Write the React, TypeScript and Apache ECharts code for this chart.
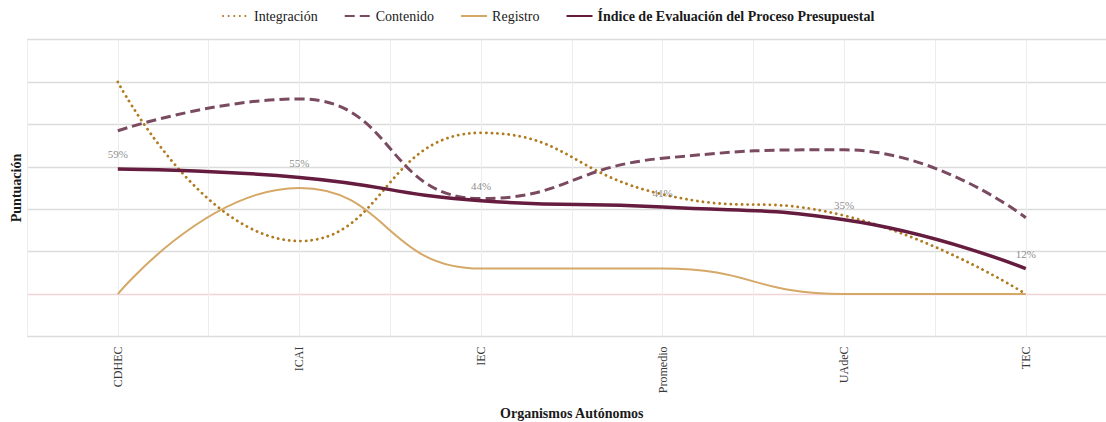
import React, { useEffect, useRef } from "react";
import * as echarts from "echarts";

const categories = ["CDHEC", "ICAI", "IEC", "Promedio", "UAdeC", "TEC"];
const integracion = [100, 25, 76, 47, 37, 0];
const contenido = [77, 92, 45, 64, 68, 36];
const registro = [0, 50, 12, 12, 0, 0];
const indice = [59, 55, 44, 41, 35, 12];

const NAME_INT = "Integración";
const NAME_CON = "Contenido";
const NAME_REG = "Registro";
const NAME_IDX = "Índice de Evaluación del Proceso Presupuestal";

const FONT = "'Liberation Serif', 'DejaVu Serif', serif";

const pairs = (arr: number[]) => arr.map((v, i) => [i, v]);

export default function App() {
  const ref = useRef<HTMLDivElement>(null);
  useEffect(() => {
    if (!ref.current) return;
    const chart = echarts.init(ref.current, undefined, { renderer: "svg" });
    const gridColors = ["#dcdcdc", "#f2d4d4", "#dcdcdc", "#dcdcdc", "#dcdcdc", "#dcdcdc", "#dcdcdc", "#dcdcdc"];
    chart.setOption({
      animation: false,
      backgroundColor: "#ffffff",
      legend: {
        data: [NAME_INT, NAME_CON, NAME_REG, NAME_IDX],
        left: 222,
        top: 9,
        padding: 0,
        itemWidth: 26,
        itemHeight: 14,
        itemGap: 26,
        itemStyle: { opacity: 0, color: "rgba(0,0,0,0)", borderWidth: 0 },
        textStyle: {
          fontFamily: FONT,
          fontSize: 14,
          color: "#1a1a1a",
          rich: { b: { fontFamily: FONT, fontSize: 14, fontWeight: "bold", color: "#1a1a1a" } },
        },
        formatter: (n: string) => (n === NAME_IDX ? "{b|" + n + "}" : n),
      },
      grid: { left: 27, top: 39.5, right: -10.6, bottom: 85.5, outerBoundsMode: "none", containLabel: false },
      xAxis: {
        type: "value",
        min: -0.5,
        max: 5.5,
        interval: 0.5,
        axisLine: { show: false },
        axisTick: { show: false },
        splitLine: { show: true, lineStyle: { color: "#ededed", width: 1 } },
        axisLabel: {
          rotate: 90,
          margin: 10,
          fontFamily: FONT,
          fontSize: 12,
          color: "#3a3a3a",
          showMinLabel: true,
          showMaxLabel: true,
          formatter: (v: number) => {
            const r = Math.round(v);
            return Math.abs(v - r) < 1e-6 && r >= 0 && r < categories.length ? categories[r] : "";
          },
        },
        name: "Organismos Autónomos",
        nameLocation: "middle",
        nameGap: 70,
        nameTextStyle: { fontFamily: FONT, fontSize: 14, fontWeight: "bold", color: "#1a1a1a" },
      },
      yAxis: {
        type: "value",
        min: -20,
        max: 120,
        interval: 20,
        axisLine: { show: false },
        axisTick: { show: false },
        axisLabel: { show: false },
        splitLine: { show: true, lineStyle: { color: gridColors, width: 1.3 } },
        name: "Puntuación",
        nameLocation: "middle",
        nameGap: 4,
        nameTextStyle: { fontFamily: FONT, fontSize: 14, fontWeight: "bold", color: "#1a1a1a" },
      },
      series: [
        {
          name: NAME_INT,
          type: "line",
          data: pairs(integracion),
          smooth: 0.5,
          symbol: "none",
          color: "#b07a1e",
          lineStyle: { color: "#b07a1e", width: 2.8, type: [0.1, 5.5], cap: "round" },
        },
        {
          name: NAME_CON,
          type: "line",
          data: pairs(contenido),
          smooth: 0.5,
          symbol: "none",
          color: "#7a4a60",
          lineStyle: { color: "#7a4a60", width: 3, type: [10, 5] },
        },
        {
          name: NAME_REG,
          type: "line",
          data: pairs(registro),
          smooth: 0.5,
          symbol: "none",
          color: "#d6a867",
          lineStyle: { color: "#d6a867", width: 2 },
        },
        {
          name: NAME_IDX,
          type: "line",
          data: pairs(indice),
          smooth: 0.5,
          symbol: "none",
          color: "#651c3e",
          lineStyle: { color: "#651c3e", width: 3.5 },
          z: 5,
        },
        {
          name: "labels",
          type: "scatter",
          data: pairs(indice),
          symbolSize: 0,
          silent: true,
          z: 6,
          label: {
            show: true,
            position: "top",
            distance: 9,
            fontFamily: FONT,
            fontSize: 11,
            color: "#6e6e6e",
            formatter: (p: any) => p.value[1] + "%",
          },
        },
      ],
    });
    return () => chart.dispose();
  }, []);
  return (
    <div
      ref={ref}
      style={{ position: "absolute", left: 0, top: 0, width: 1106, height: 422 }}
    />
  );
}
